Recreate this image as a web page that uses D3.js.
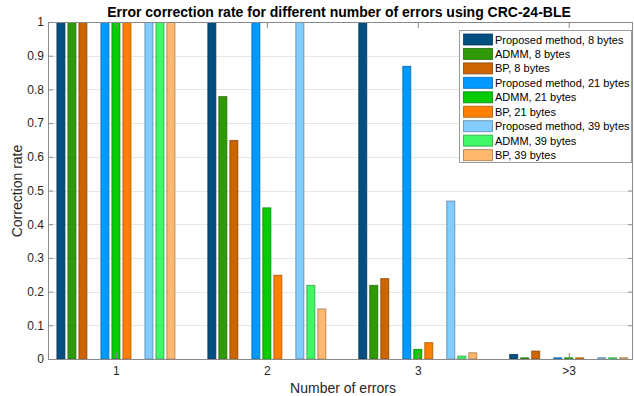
<!DOCTYPE html>
<html>
<head>
<meta charset="utf-8">
<script src="https://cdn.jsdelivr.net/npm/d3@7"></script>
<style>
  html, body { margin: 0; padding: 0; background: #fff; }
  svg { display: block; font-family: "Liberation Sans", Arial, Helvetica, sans-serif; }
</style>
</head>
<body>
<svg id="chart" width="634" height="396"></svg>
<script>
// ---- data ----
const categories = ["1", "2", "3", ">3"];
const seriesNames = [
  "Proposed method, 8 bytes", "ADMM, 8 bytes", "BP, 8 bytes",
  "Proposed method, 21 bytes", "ADMM, 21 bytes", "BP, 21 bytes",
  "Proposed method, 39 bytes", "ADMM, 39 bytes", "BP, 39 bytes"
];
const seriesColors = [
  "#034f82", "#2f9a07", "#cc6500",
  "#0099ff", "#05cc05", "#ff8000",
  "#82ccff", "#40f766", "#ffb86e"
];
const proposed8  = [1, 1,    1,    0.015];
const admm8      = [1, 0.78, 0.22, 0.005];
const bp8        = [1, 0.65, 0.24, 0.025];
const proposed21 = [1, 1,    0.87, 0.005];
const admm21     = [1, 0.45, 0.03, 0.005];
const bp21       = [1, 0.25, 0.05, 0.005];
const proposed39 = [1, 1,    0.47, 0.005];
const admm39     = [1, 0.22, 0.01, 0.005];
const bp39       = [1, 0.15, 0.02, 0.005];
const seriesValues = [proposed8, admm8, bp8, proposed21, admm21, bp21, proposed39, admm39, bp39];
const yTicks = [0, 0.1, 0.2, 0.3, 0.4, 0.5, 0.6, 0.7, 0.8, 0.9, 1];
const titleText = "Error correction rate for different number of errors using CRC-24-BLE";
const xLabel = "Number of errors";
const yLabel = "Correction rate";

(function draw() {
  const svg = d3.select("#chart");
  const pLeft = 48, pRight = 633, pTop = 22, pBottom = 359;
  const x = d3.scaleLinear().domain([0.55, 4.426]).range([pLeft, pRight]);
  const y = d3.scaleLinear().domain([0, 1]).range([pBottom, pTop]);
  const unit = x(1) - x(0);
  const setStep = 44 / unit, barStep = 11 / unit, barW = 9 / unit;

  // grid
  svg.append("g").selectAll("line").data(yTicks.filter(d => d > 0 && d < 1)).join("line")
    .attr("x1", pLeft).attr("x2", pRight)
    .attr("y1", d => Math.round(y(d)) + 0.5).attr("y2", d => Math.round(y(d)) + 0.5)
    .attr("stroke", "#e6e6e6").attr("stroke-width", 1);

  // bars
  const bars = [];
  seriesValues.forEach((vals, si) => {
    const s = Math.floor(si / 3), m = si % 3;
    const off = (s - 1) * setStep + (m - 1) * barStep;
    vals.forEach((v, ci) => bars.push({ si, cat: ci + 1, v, off }));
  });
  svg.append("g").selectAll("rect").data(bars).join("rect")
    .attr("x", d => x(d.cat + d.off - barW / 2) + 0.5)
    .attr("width", x(barW) - x(0) - 1)
    .attr("y", d => y(d.v) + 0.5)
    .attr("height", d => Math.max(0, y(0) - y(d.v) - 0.5))
    .attr("fill", d => seriesColors[d.si])
    .attr("stroke", d => d3.color(seriesColors[d.si]).darker(1.3))
    .attr("stroke-opacity", 0.75)
    .attr("stroke-width", 1);

  // axes
  const axisColor = "#8a8a8a";
  const gx = svg.append("g").attr("transform", `translate(0,${pBottom})`)
    .call(d3.axisBottom(x).tickValues([1, 2, 3, 4]).tickFormat((d, i) => categories[i])
      .tickSizeInner(-6).tickSizeOuter(0).tickPadding(7));
  const gxTop = svg.append("g").attr("transform", `translate(0,${pTop})`)
    .call(d3.axisTop(x).tickValues([1, 2, 3, 4]).tickFormat("")
      .tickSizeInner(-6).tickSizeOuter(0));
  const gy = svg.append("g").attr("transform", `translate(${pLeft},0)`)
    .call(d3.axisLeft(y).tickValues(yTicks).tickFormat(d3.format("~g"))
      .tickSizeInner(-5).tickSizeOuter(0).tickPadding(4));
  const gyR = svg.append("g").attr("transform", `translate(${pRight},0)`)
    .call(d3.axisRight(y).tickValues(yTicks).tickFormat("")
      .tickSizeInner(-5).tickSizeOuter(0));
  [gx, gxTop, gy, gyR].forEach(g => {
    g.select(".domain").remove();
    g.selectAll(".tick line").attr("stroke", axisColor);
    g.selectAll(".tick text").attr("fill", "#262626").attr("font-size", 12)
      .attr("font-family", '"Liberation Sans", Arial, sans-serif');
  });
  svg.append("rect").attr("x", pLeft + 0.5).attr("y", pTop + 0.5)
    .attr("width", pRight - pLeft - 1).attr("height", pBottom - pTop)
    .attr("fill", "none").attr("stroke", axisColor).attr("stroke-width", 1);

  // labels
  svg.append("text").attr("x", 339).attr("y", 17).attr("text-anchor", "middle")
    .attr("font-size", 14).attr("font-weight", "bold").attr("fill", "#000").text(titleText);
  svg.append("text").attr("x", 343).attr("y", 393).attr("text-anchor", "middle")
    .attr("font-size", 14).attr("fill", "#262626").text(xLabel);
  svg.append("text").attr("transform", "translate(22,191) rotate(-90)").attr("text-anchor", "middle")
    .attr("font-size", 14).attr("fill", "#262626").text(yLabel);

  // legend
  const lg = svg.append("g");
  const lx = 459, ly = 30, lw = 172, lh = 132;
  lg.append("rect").attr("x", lx + 0.5).attr("y", ly + 0.5).attr("width", lw).attr("height", lh)
    .attr("fill", "#fff").attr("stroke", "#9a9a9a").attr("stroke-width", 1);
  const rows = lg.selectAll("g.row").data(seriesNames).join("g")
    .attr("transform", (d, i) => `translate(${lx + 4},${ly + 9.5 + i * 14.45})`);
  rows.append("rect").attr("x", 0.5).attr("y", -5.5).attr("width", 29).attr("height", 11)
    .attr("fill", (d, i) => seriesColors[i])
    .attr("stroke", (d, i) => d3.color(seriesColors[i]).darker(1.3)).attr("stroke-opacity", 0.75);
  rows.append("text").attr("x", 32).attr("y", 4).attr("font-size", 11).attr("fill", "#000").text(d => d);
})();
</script>
</body>
</html>
